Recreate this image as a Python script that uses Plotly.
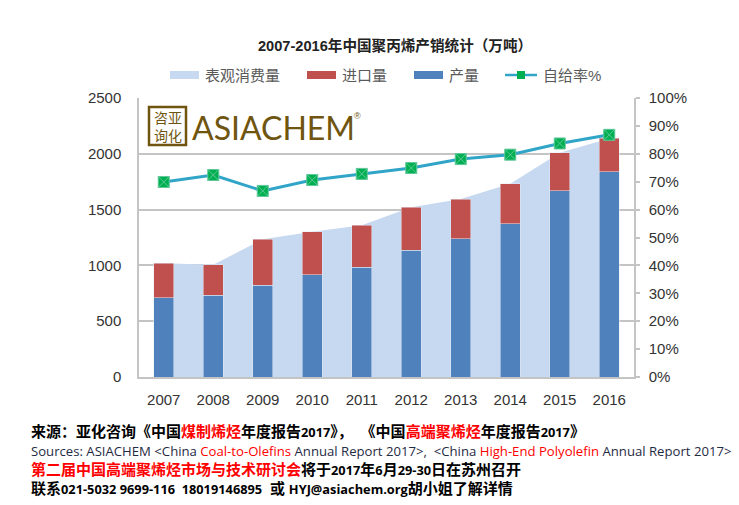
#!/usr/bin/env python3
# -*- coding: utf-8 -*-
import plotly.graph_objects as go

# --- Daten ---
years = ["2007", "2008", "2009", "2010", "2011", "2012", "2013", "2014", "2015", "2016"]
consumption = [1019, 1006, 1234, 1302, 1360, 1520, 1595, 1732, 2010, 2138]
imports = [308, 272, 410, 385, 377, 385, 356, 358, 343, 298]
production = [711, 734, 824, 917, 983, 1135, 1239, 1374, 1667, 1840]
self_rate = [69.9, 72.4, 66.7, 70.6, 72.8, 74.9, 78.1, 79.7, 83.7, 86.8]

left_ticks = [0, 500, 1000, 1500, 2000, 2500]
right_ticks = [0, 10, 20, 30, 40, 50, 60, 70, 80, 90, 100]
right_labels = ["0%", "10%", "20%", "30%", "40%", "50%", "60%", "70%", "80%", "90%", "100%"]

title = "2007-2016年中国聚丙烯产销统计（万吨）"
names = ["表观消费量", "进口量", "产量", "自给率%"]

RED = "#ff0000"
C_SOURCE = "#1f2a44"


def red(s):
    return f'<span style="color:{RED}">{s}</span>'


def small(s):
    # lateinische Teile sind im Original kleiner als die CJK-Zeichen
    return f'<span style="font-size:12.8px">{s}</span>'


def cjk_line(s):
    return f'<b><span style="font-size:15px">{s}</span></b>'


line1 = f'来源：亚化咨询《中国{red("煤制烯烃")}年度报告{small("2017")}》，&#160;&#160;《中国{red("高端聚烯烃")}年度报告{small("2017")}》'
line2 = f'<span style="font-size:13.15px;color:{C_SOURCE}">Sources: ASIACHEM &lt;China {red("Coal-to-Olefins")} Annual Report 2017&gt;,  &lt;China {red("High-End Polyolefin")} Annual Report 2017&gt;</span>'
line3 = f'{red("第二届中国高端聚烯烃市场与技术研讨会")}将于{small("2017")}年{small("6")}月{small("29-30")}日在苏州召开'
line4 = f'联系{small("021-5032 9699-116  18019146895")}  或 {small("HYJ@asiachem.org")}胡小姐了解详情'
footer = "<br>".join([cjk_line(line1), line2, cjk_line(line3), cjk_line(line4)])

# --- Farben ---
C_AREA = "#c6d9f1"
C_IMPORT = "#c0504d"
C_PROD = "#4f81bd"
C_LINE = "#31a5c8"
C_MARK = "#00b050"
C_GRID = "#c4c4c4"
C_TEXT = "#333333"
C_LEGEND = "#595959"
C_LOGO = "#6f5510"

W, H = 739, 505
L, R, T, B = 139, 634, 98, 377
FONT = "Liberation Sans, Noto Sans CJK SC, sans-serif"
FOOT = "Open Sans, Noto Sans CJK SC, sans-serif"


def px(x):
    return (x - L) / (R - L)


def py(y):
    return (B - y) / (B - T)


def label(x, y, text, size, color=C_TEXT, family=FONT, anchor="left"):
    return dict(xref="paper", yref="paper", x=px(x), y=py(y), text=text, showarrow=False,
                xanchor=anchor, yanchor="middle", align="left",
                font=dict(size=size, color=color, family=family))


def swatch(x0, x1, y0, y1, color):
    return dict(type="rect", xref="paper", yref="paper", x0=px(x0), x1=px(x1), y0=py(y0), y1=py(y1),
                fillcolor=color, line=dict(width=0))


fig = go.Figure()
# Fläche auf der Hauptachse, Balken und Linie auf Overlay-Achsen, damit die Fläche hinten liegt
fig.add_trace(go.Scatter(x=years, y=consumption, name=names[0], mode="lines", fill="tozeroy",
                         fillcolor=C_AREA, line=dict(width=0, color=C_AREA), showlegend=False))
fig.add_trace(go.Bar(x=years, y=production, name=names[2], yaxis="y2", marker=dict(color=C_PROD), showlegend=False))
fig.add_trace(go.Bar(x=years, y=imports, name=names[1], yaxis="y2", marker=dict(color=C_IMPORT), showlegend=False))
fig.add_trace(go.Scatter(x=years, y=self_rate, name=names[3], yaxis="y3", mode="lines+markers",
                         line=dict(color=C_LINE, width=3),
                         marker=dict(symbol="square-x", size=11, color=C_MARK, line=dict(color="#5fc79a", width=1)),
                         showlegend=False))

shapes = [
    swatch(170, 199, 71, 79, C_AREA),
    swatch(307, 336, 71, 79, C_IMPORT),
    swatch(414, 443, 71, 79, C_PROD),
    dict(type="line", xref="paper", yref="paper", x0=px(505), x1=px(537), y0=py(75), y1=py(75),
         line=dict(color=C_LINE, width=2.5)),
    swatch(517, 525, 71, 79, C_MARK),
    # Logo-Stempel
    dict(type="rect", xref="paper", yref="paper", x0=px(149), x1=px(186), y0=py(107), y1=py(145),
         fillcolor="white", line=dict(color=C_LOGO, width=2.5)),
]

annotations = [
    label(395, 45, f"<b>{title}</b>", 14.6, "#222222", anchor="center"),
    label(203, 75, names[0], 15, C_LEGEND),
    label(340, 75, names[1], 15, C_LEGEND),
    label(447, 75, names[2], 15, C_LEGEND),
    label(541, 75, names[3], 15, C_LEGEND),
    label(167.5, 126, "咨亚<br>询化", 14, C_LOGO, "Noto Sans CJK SC", "center"),
    label(190, 127, "ASIACHEM", 32, C_LOGO, "Lato, Liberation Sans, sans-serif"),
    label(352, 116, "®", 9, C_LOGO),
    label(29, 459.5, footer, 14.5, "black", FOOT),
]

fig.update_layout(
    width=W, height=H, autosize=False,
    margin=dict(l=L, r=W - R, t=T, b=H - B),
    paper_bgcolor="white", plot_bgcolor="white",
    barmode="stack", bargap=0.6,
    font=dict(family=FONT, size=15, color=C_TEXT),
    shapes=shapes, annotations=annotations,
    xaxis=dict(type="category", range=[-0.5, 9.5], showgrid=False, showline=True, linecolor=C_GRID,
               linewidth=1.5, ticks="", ticklabelstandoff=8, tickfont=dict(size=15, color=C_TEXT)),
    yaxis=dict(range=[0, 2500], tickvals=left_ticks, showgrid=True, gridcolor=C_GRID, gridwidth=1.5,
               showline=True, linecolor=C_GRID, linewidth=1.5, zeroline=False, ticks="",
               ticklabelstandoff=13, tickfont=dict(size=15, color=C_TEXT)),
    yaxis2=dict(range=[0, 2500], overlaying="y", visible=False),
    yaxis3=dict(range=[0, 100], overlaying="y", side="right", tickvals=right_ticks, ticktext=right_labels,
                showgrid=False, showline=True, linecolor=C_GRID, linewidth=1.5, zeroline=False,
                ticks="outside", ticklen=4, tickcolor=C_GRID, tickwidth=1.5, ticklabelstandoff=6,
                tickfont=dict(size=15, color=C_TEXT)),
)

fig.write_html("out.html", config={"displayModeBar": False}, post_script="document.body.style.margin='0';")
